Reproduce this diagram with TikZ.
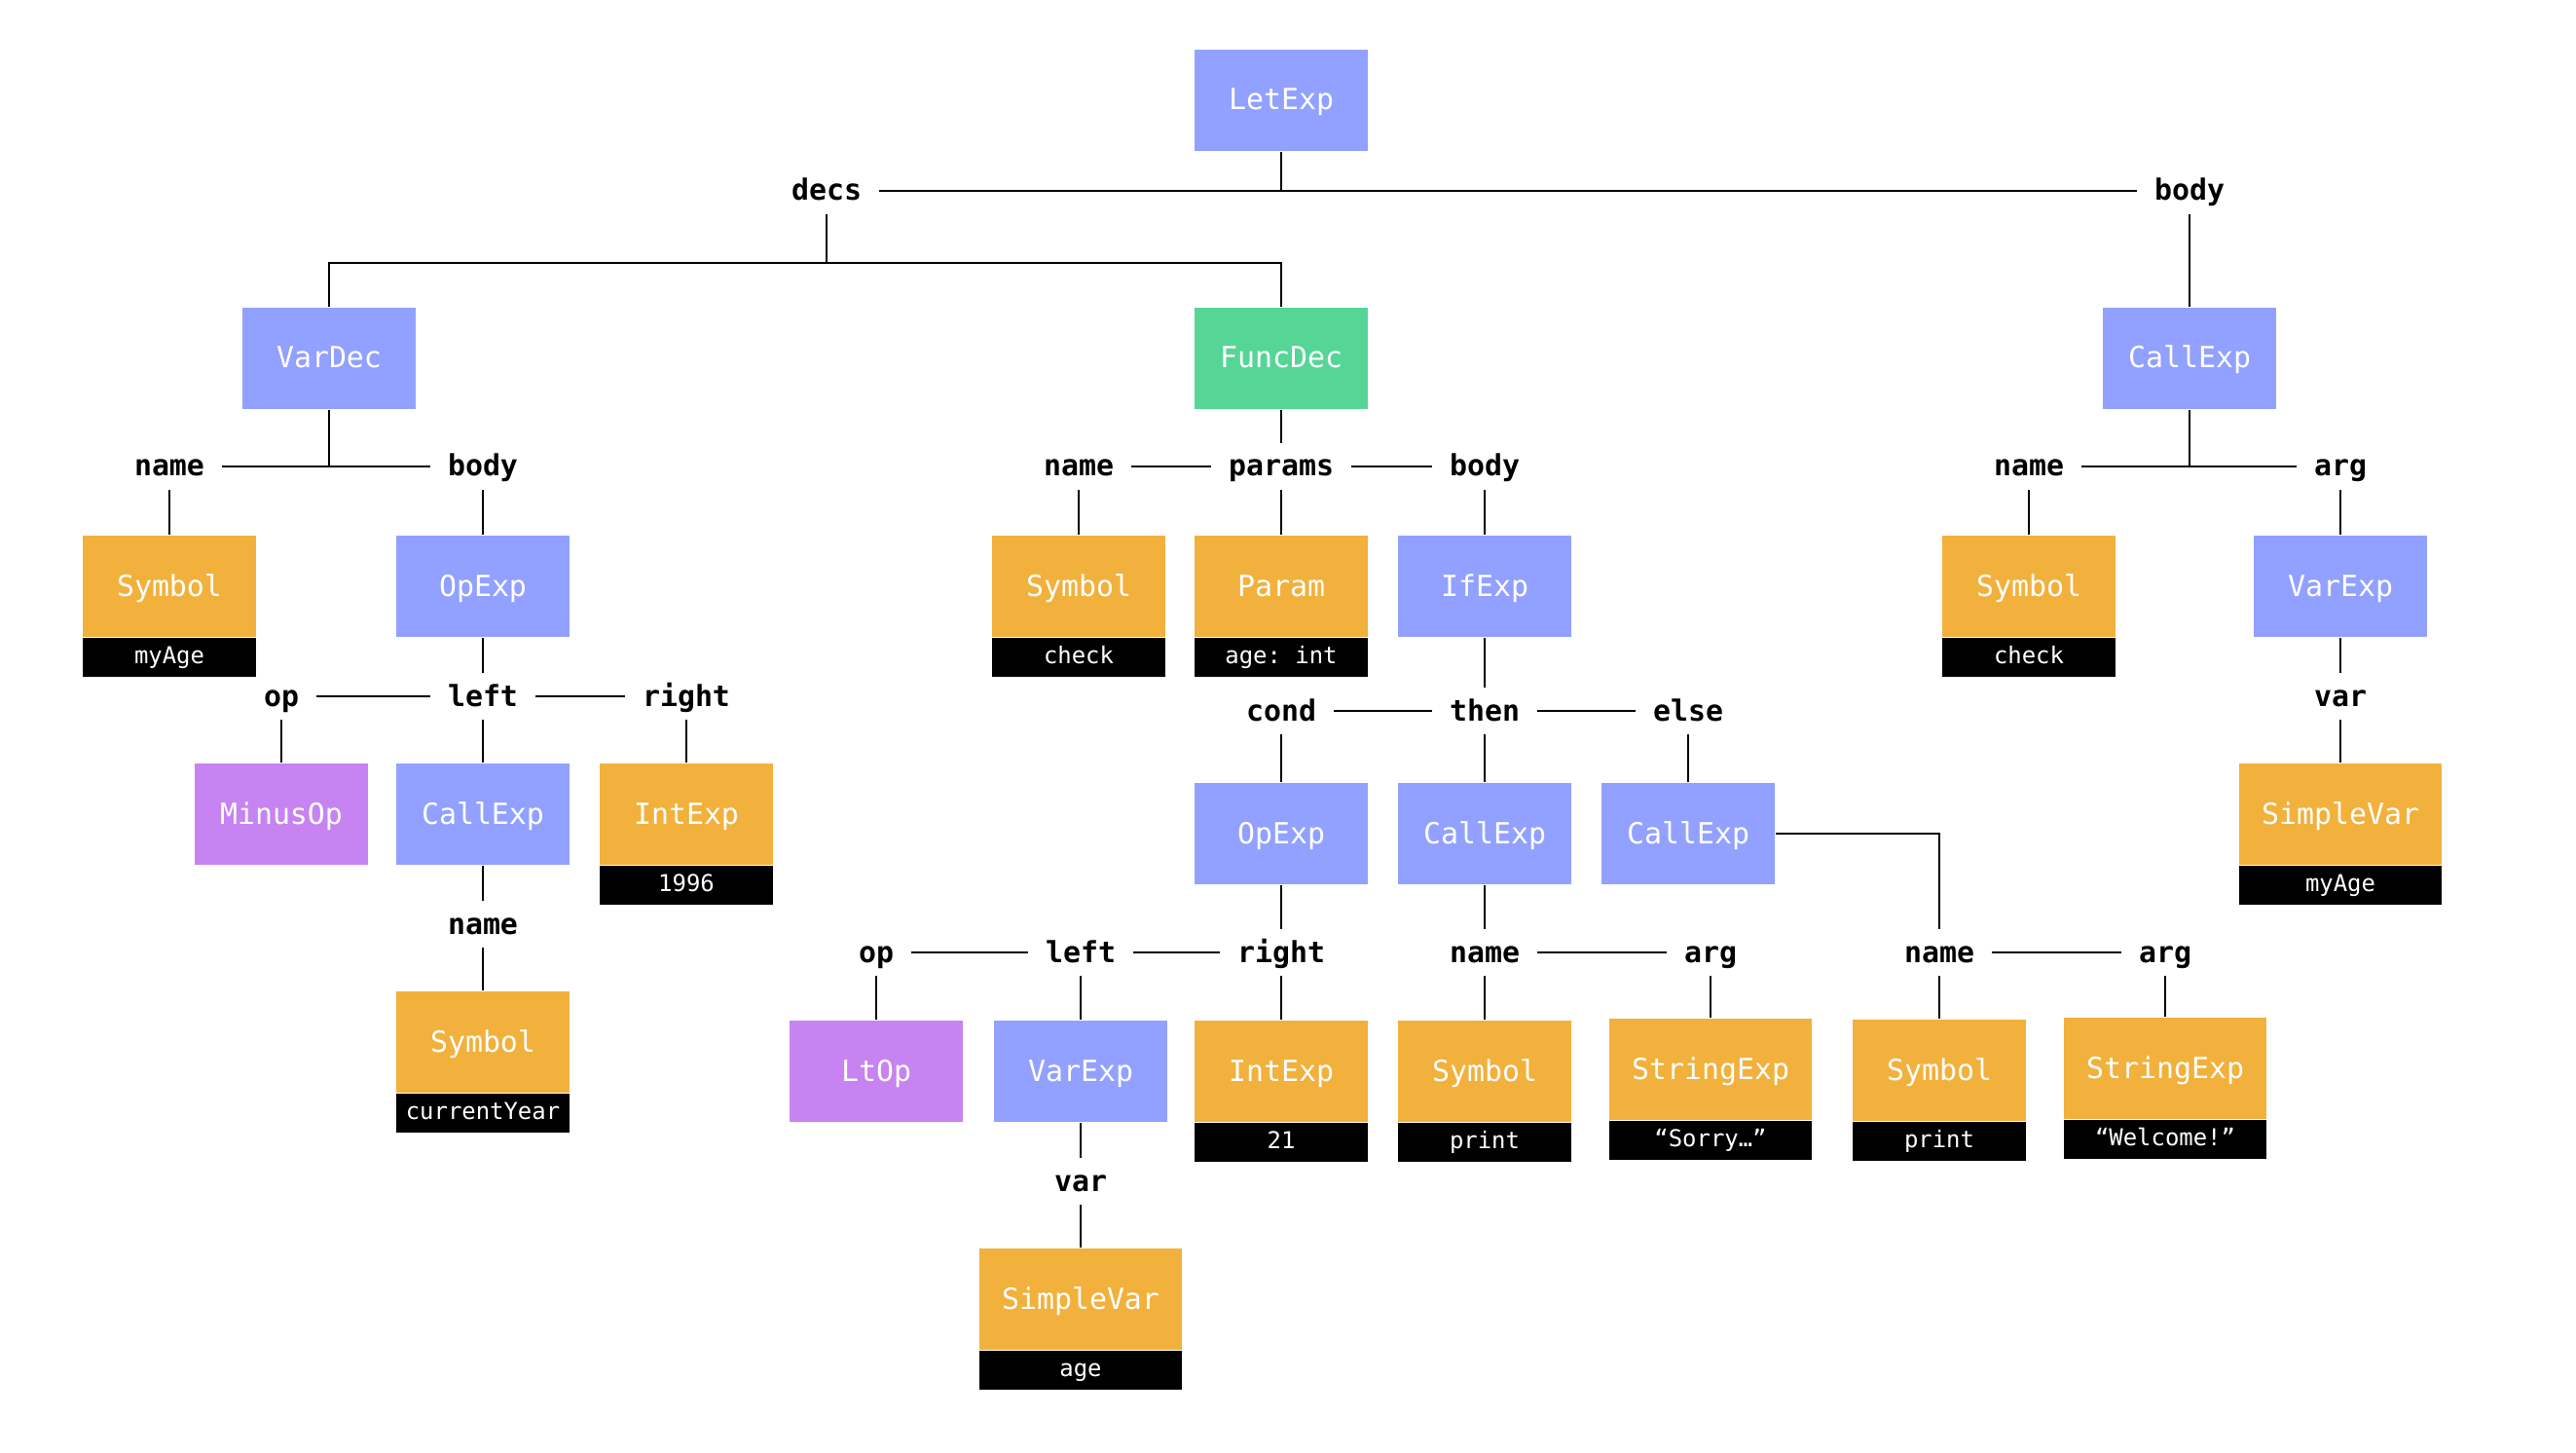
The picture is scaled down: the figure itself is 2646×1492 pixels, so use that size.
\documentclass[tikz,border=0pt]{standalone}
\usepackage{fontspec}
\setmonofont{DejaVu Sans Mono}
\usepackage{tikz}
\usetikzlibrary{positioning}

\definecolor{recblue}{HTML}{92A1FF}
\definecolor{litorange}{HTML}{F2B13C}
\definecolor{decgreen}{HTML}{55D697}
\definecolor{oppurple}{HTML}{C683F1}

\begin{document}
\begin{tikzpicture}[x=0.01cm, y=-0.01cm, line width=0.75pt]

        \tikzstyle{ast}=[text=white, font=\ttfamily\fontsize{8.5}{10}\selectfont, minimum width=1.77cm, minimum height=1.03cm, inner sep=0pt, text height=0.24cm, text depth=0.04cm]
        \tikzstyle{rec}=[ast, fill=recblue]
        \tikzstyle{lit}=[ast, fill=litorange]
        \tikzstyle{dec}=[ast, fill=decgreen]
        \tikzstyle{opr}=[ast, fill=oppurple]
        \tikzstyle{val}=[fill=black, text=white, font=\ttfamily\fontsize{6.8}{8}\selectfont, minimum width=1.77cm, minimum height=0.40cm, inner sep=0pt, text height=0.17cm, text depth=0.04cm]
        \tikzstyle{wide}=[minimum width=2.08cm]
        \tikzstyle{field}=[font=\ttfamily\bfseries\fontsize{8.5}{10}\selectfont, inner xsep=0.17cm, inner ysep=0.08cm, text height=0.25cm, text depth=0.05cm]

        \useasboundingbox (0,0) rectangle (2646,1492);

        \node[rec]         (let)       at (1316,103)  {LetExp};
        \node[field]       (decs)      at (849,196)   {decs};
        \node[field]       (letbody)   at (2249,196)  {body};
        \coordinate        (decsbar)   at (849,270);

        \node[rec]         (vardec)    at (338,368)   {VarDec};
        \node[dec]         (funcdec)   at (1316,368)  {FuncDec};
        \node[rec]         (call1)     at (2249,368)  {CallExp};

        % VarDec
        \node[field]       (vdname)    at (174,479)   {name};
        \node[field]       (vdbody)    at (496,479)   {body};
        \node[lit]         (sym1)      at (174,602)   {Symbol};
        \node[val]         (sym1v)     [below=-0.3pt of sym1] {myAge};
        \node[rec]         (op1)       at (496,602)   {OpExp};
        \node[field]       (op1op)     at (289,715)   {op};
        \node[field]       (op1left)   at (496,715)   {left};
        \node[field]       (op1right)  at (705,715)   {right};
        \node[opr]         (minus)     at (289,836)   {MinusOp};
        \node[rec]         (call2)     at (496,836)   {CallExp};
        \node[lit]         (int1)      at (705,836)   {IntExp};
        \node[val]         (int1v)     [below=-0.3pt of int1] {1996};
        \node[field]       (call2name) at (496,949)   {name};
        \node[lit]         (sym2)      at (496,1070)  {Symbol};
        \node[val]         (sym2v)     [below=-0.3pt of sym2] {currentYear};

        % FuncDec
        \node[field]       (fdname)    at (1108,479)  {name};
        \node[field]       (fdparams)  at (1316,479)  {params};
        \node[field]       (fdbody)    at (1525,479)  {body};
        \node[lit]         (sym3)      at (1108,602)  {Symbol};
        \node[val]         (sym3v)     [below=-0.3pt of sym3] {check};
        \node[lit]         (param)     at (1316,602)  {Param};
        \node[val]         (paramv)    [below=-0.3pt of param] {age: int};
        \node[rec]         (ifexp)     at (1525,602)  {IfExp};
        \node[field]       (cond)      at (1316,730)  {cond};
        \node[field]       (then)      at (1525,730)  {then};
        \node[field]       (else)      at (1734,730)  {else};
        \node[rec]         (op2)       at (1316,856)  {OpExp};
        \node[rec]         (call3)     at (1525,856)  {CallExp};
        \node[rec]         (call4)     at (1734,856)  {CallExp};

        \node[field]       (op2op)     at (900,978)   {op};
        \node[field]       (op2left)   at (1110,978)  {left};
        \node[field]       (op2right)  at (1316,978)  {right};
        \node[opr]         (ltop)      at (900,1100)  {LtOp};
        \node[rec]         (varexp1)   at (1110,1100) {VarExp};
        \node[lit]         (int2)      at (1316,1100) {IntExp};
        \node[val]         (int2v)     [below=-0.3pt of int2] {21};
        \node[field]       (var1)      at (1110,1213) {var};
        \node[lit, wide]   (svar1)     at (1110,1334) {SimpleVar};
        \node[val, wide]   (svar1v)    [below=-0.3pt of svar1] {age};

        \node[field]       (call3name) at (1525,978)  {name};
        \node[field]       (call3arg)  at (1757,978)  {arg};
        \node[lit]         (sym4)      at (1525,1100) {Symbol};
        \node[val]         (sym4v)     [below=-0.3pt of sym4] {print};
        \node[lit, wide]   (str1)      at (1757,1098) {StringExp};
        \node[val, wide]   (str1v)     [below=-0.3pt of str1] {“Sorry…”};

        \node[field]       (call4name) at (1992,978)  {name};
        \node[field]       (call4arg)  at (2224,978)  {arg};
        \node[lit]         (sym5)      at (1992,1099) {Symbol};
        \node[val]         (sym5v)     [below=-0.3pt of sym5] {print};
        \node[lit, wide]   (str2)      at (2224,1097) {StringExp};
        \node[val, wide]   (str2v)     [below=-0.3pt of str2] {“Welcome!”};

        % let body
        \node[field]       (c1name)    at (2084,479)  {name};
        \node[field]       (c1arg)     at (2404,479)  {arg};
        \node[lit]         (sym6)      at (2084,602)  {Symbol};
        \node[val]         (sym6v)     [below=-0.3pt of sym6] {check};
        \node[rec]         (varexp2)   at (2404,602)  {VarExp};
        \node[field]       (var2)      at (2404,715)  {var};
        \node[lit, wide]   (svar2)     at (2404,836)  {SimpleVar};
        \node[val, wide]   (svar2v)    [below=-0.3pt of svar2] {myAge};

        \path
        (let)      edge (let |- decs)
        (decs)     edge (letbody)
        (decs)     edge (decsbar)
        (letbody)  edge (call1)

        (vardec)   edge (vardec |- vdname)
        (vdname)   edge (vdbody)
        (vdname)   edge (sym1)
        (vdbody)   edge (op1)
        (op1)      edge (op1left)
        (op1op)    edge (op1left)
        (op1left)  edge (op1right)
        (op1op)    edge (minus)
        (op1left)  edge (call2)
        (op1right) edge (int1)
        (call2)    edge (call2name)
        (call2name) edge (sym2)

        (funcdec)  edge (fdparams)
        (fdname)   edge (fdparams)
        (fdparams) edge (fdbody)
        (fdname)   edge (sym3)
        (fdparams) edge (param)
        (fdbody)   edge (ifexp)
        (ifexp)    edge (then)
        (cond)     edge (then)
        (then)     edge (else)
        (cond)     edge (op2)
        (then)     edge (call3)
        (else)     edge (call4)

        (op2)      edge (op2right)
        (op2op)    edge (op2left)
        (op2left)  edge (op2right)
        (op2op)    edge (ltop)
        (op2left)  edge (varexp1)
        (op2right) edge (int2)
        (varexp1)  edge (var1)
        (var1)     edge (svar1)

        (call3)    edge (call3name)
        (call3name) edge (call3arg)
        (call3name) edge (sym4)
        (call3arg) edge (str1)

        (call4name) edge (call4arg)
        (call4name) edge (sym5)
        (call4arg) edge (str2)

        (call1)    edge (call1 |- c1name)
        (c1name)   edge (c1arg)
        (c1name)   edge (sym6)
        (c1arg)    edge (varexp2)
        (varexp2)  edge (var2)
        (var2)     edge (svar2)
        ;

        \draw (vardec) |- (decsbar) -| (funcdec);
        \draw (call4) -| (call4name);
    \end{tikzpicture}
\end{document}
